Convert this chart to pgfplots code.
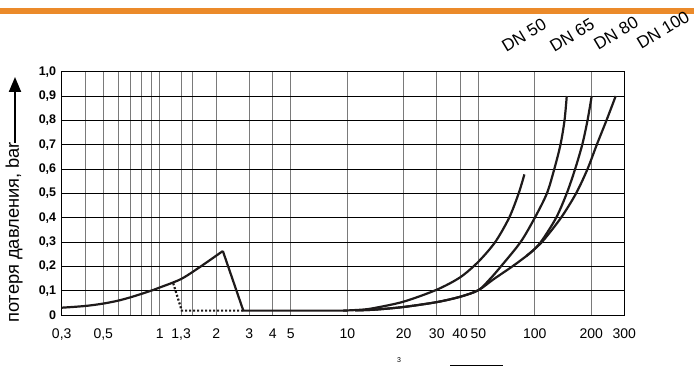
\documentclass[border=0pt]{standalone}
\usepackage{fontspec}
\setmainfont{Liberation Sans}
\usepackage{pgfplots}
\pgfplotsset{compat=1.18}
\usetikzlibrary{arrows.meta}
\definecolor{orng}{HTML}{EB8A2A}
\definecolor{crv}{HTML}{1E1A1A}
\definecolor{vgrid}{HTML}{7A7A7A}
\begin{document}
\begin{tikzpicture}
\path[use as bounding box] (0pt,0pt) rectangle (694pt,367pt);
\fill[orng] (0pt,353pt) rectangle (694pt,358.5pt);
\begin{axis}[
  at={(61.7pt,52pt)}, anchor=south west,
  scale only axis, width=562.6pt, height=243.3pt,
  xmode=log, xmin=0.3, xmax=300, ymin=0, ymax=1,
  xtick={0.3,0.5,1,1.3,2,3,4,5,10,20,30,40,50,100,200,300},
  xticklabels={{0,3},{0,5},1,{1,3},2,3,4,5,10,20,30,40,50,100,200,300},
  minor xtick={0.4,0.6,0.7,0.8,0.9,1.5},
  ytick={0,0.1,0.2,0.3,0.4,0.5,0.6,0.7,0.8,0.9,1},
  yticklabels={0,{0,1},{0,2},{0,3},{0,4},{0,5},{0,6},{0,7},{0,8},{0,9},{1,0}},
  grid=both,
  major tick length=0pt, minor tick length=0pt,
  x grid style={vgrid, line width=0.8pt},
  minor x grid style={vgrid, line width=0.8pt},
  y grid style={black, line width=0.8pt},
  axis line style={black, line width=0.8pt},
  xticklabel style={font=\fontsize{14}{14}\selectfont, yshift=-10pt},
  yticklabel style={font=\bfseries\fontsize{12.5}{12.5}\selectfont, xshift=-2pt},
]
% low-range curve
\addplot[crv, line width=2.2pt, smooth] coordinates {
 (0.3,0.030) (0.4,0.037) (0.5,0.047) (0.6,0.059) (0.7,0.073) (0.8,0.087)
 (0.9,0.100) (1.0,0.113) (1.3,0.148) (1.65,0.199) (2.17,0.263)};
\addplot[crv, line width=2.2pt] coordinates {
 (2.17,0.263) (2.79,0.018) (10,0.018)};
% dotted
\addplot[crv, line width=2.2pt, dash pattern=on 2pt off 2pt] coordinates {
 (1.18,0.130) (1.31,0.018) (2.79,0.018)};
% DN 50
\addplot[crv, line width=2.2pt, smooth] coordinates {
 (9.5,0.018) (12,0.022) (14,0.029) (20,0.055) (30,0.104) (40,0.155)
 (50,0.219) (61.5,0.3) (73,0.4) (82,0.5) (88,0.578)};
% DN 65
\addplot[crv, line width=2.2pt, smooth] coordinates {
 (11,0.019) (14,0.022) (20,0.033) (30,0.053) (40,0.075) (50,0.102)
 (58,0.15) (66,0.2) (84,0.3) (100,0.4) (116,0.5) (127,0.6) (137,0.7)
 (144,0.8) (148,0.9)};
% DN 80
\addplot[crv, line width=2.2pt, smooth] coordinates {
 (11,0.019) (14,0.022) (20,0.033) (30,0.053) (40,0.075) (50,0.102)
 (60,0.146) (76,0.2) (90,0.242) (100,0.272) (110,0.31) (130,0.4)
 (148,0.5) (164,0.6) (179,0.7) (191,0.8) (201,0.9)};
% DN 100
\addplot[crv, line width=2.2pt, smooth] coordinates {
 (90,0.242) (100,0.272) (112,0.31) (138,0.4) (166,0.5) (191,0.6)
 (214,0.7) (241,0.8) (270,0.9)};
\end{axis}
% y label with arrow
\node[rotate=90, anchor=base west, inner sep=0pt,
      font=\fontsize{18.3}{18.3}\selectfont] at (19pt,44pt) {потеря давления, bar};
\draw[-{Triangle[width=12pt,length=15pt]}, line width=2pt] (15pt,224pt) -- (15pt,290pt);
% DN labels
\begin{scope}[every node/.style={rotate=31, inner sep=0pt, font=\fontsize{17}{17}\selectfont}]
\node at (524pt,332pt) {DN 50};
\node at (572pt,332pt) {DN 65};
\node at (616pt,334pt) {DN 80};
\node at (663pt,337pt) {DN 100};
\end{scope}
% bottom remnants
\node[font=\fontsize{7}{7}\selectfont, inner sep=0pt] at (399pt,7pt) {3};
\draw[line width=1pt] (450pt,1pt) -- (503pt,1pt);
\end{tikzpicture}
\end{document}
